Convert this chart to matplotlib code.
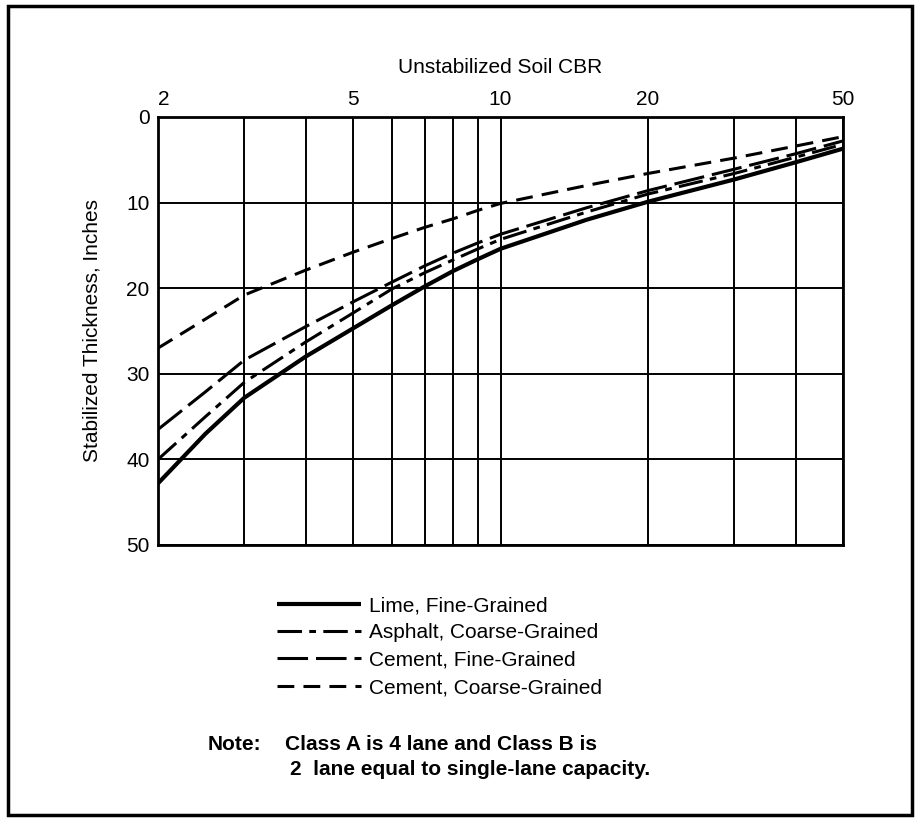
import numpy as np
import matplotlib.pyplot as plt
from matplotlib.patches import Rectangle

plt.rcParams['font.family'] = ['Liberation Sans', 'DejaVu Sans']

# data (CBR vs stabilized thickness, inches)
cbr = [2, 2.5, 3, 4, 5, 6, 7, 8, 9, 10, 15, 20, 30, 40, 50]
lime_fine = [42.8, 37.0, 32.8, 28.0, 24.7, 22.0, 19.8, 18.0, 16.6, 15.4, 12.0, 9.9, 7.3, 5.3, 3.7]
asphalt_coarse = [40.0, 35.0, 31.0, 26.3, 22.9, 20.1, 18.2, 16.7, 15.4, 14.3, 11.1, 9.0, 6.6, 4.7, 3.2]
cement_fine = [36.5, 32.1, 28.4, 24.5, 21.6, 19.3, 17.4, 15.9, 14.7, 13.7, 10.6, 8.6, 6.1, 4.3, 2.8]
cement_coarse = [27.0, 23.6, 20.8, 17.9, 15.8, 14.2, 12.9, 11.9, 10.9, 10.1, 8.0, 6.6, 4.8, 3.4, 2.3]

x_grid = [2, 3, 4, 5, 6, 7, 8, 9, 10, 20, 30, 40, 50]
x_labels = [2, 5, 10, 20, 50]
y_ticks = [0, 10, 20, 30, 40, 50]

fig = plt.figure(figsize=(9.21, 8.22), dpi=100)
ax = fig.add_axes([0.1716, 0.337, 0.7437, 0.5207])

ax.set_xscale('log')
ax.set_xlim(2, 50)
ax.set_ylim(50, 0)

for xv in x_grid:
    ax.axvline(xv, color='black', lw=1.4, zorder=1)
for yv in y_ticks:
    ax.axhline(yv, color='black', lw=1.4, zorder=1)

ax.plot(cbr, lime_fine, color='black', lw=3.0, solid_capstyle='butt',
        label='Lime, Fine-Grained')
ax.plot(cbr, asphalt_coarse, color='black', lw=2.2,
        linestyle=(0, (8, 2.4, 2.2, 2.4)), label='Asphalt, Coarse-Grained')
ax.plot(cbr, cement_fine, color='black', lw=2.2,
        linestyle=(0, (10, 2.6)), label='Cement, Fine-Grained')
ax.plot(cbr, cement_coarse, color='black', lw=2.2,
        linestyle=(0, (5.5, 3)), label='Cement, Coarse-Grained')

ax.xaxis.tick_top()
ax.xaxis.set_label_position('top')
ax.set_xticks(x_labels)
ax.set_xticklabels([str(v) for v in x_labels])
ax.get_xticklabels()[0].set_horizontalalignment('left')
ax.minorticks_off()
ax.set_yticks(y_ticks)
ax.tick_params(length=0, labelsize=15, pad=6)
ax.set_xlabel('Unstabilized Soil CBR', fontsize=15, labelpad=12)
ax.set_ylabel('Stabilized Thickness, Inches', fontsize=15, labelpad=18)
for s in ax.spines.values():
    s.set_linewidth(2)

fig.legend(loc='upper left', bbox_to_anchor=(0.292, 0.285), frameon=False,
           fontsize=15, handlelength=4.0, handletextpad=0.4,
           labelspacing=0.4, borderaxespad=0)

fig.text(0.225, 0.087, 'Note:', fontsize=15, fontweight='bold')
fig.text(0.309, 0.087, 'Class A is 4 lane and Class B is', fontsize=15,
         fontweight='bold')
fig.text(0.315, 0.057, '2  lane equal to single-lane capacity.', fontsize=15,
         fontweight='bold')

fig.patches.append(Rectangle((8 / 921, 7 / 822), 904 / 921, 809 / 822,
                             transform=fig.transFigure, fill=False,
                             edgecolor='black', lw=2.5))

fig.savefig('out.png', dpi=100)
